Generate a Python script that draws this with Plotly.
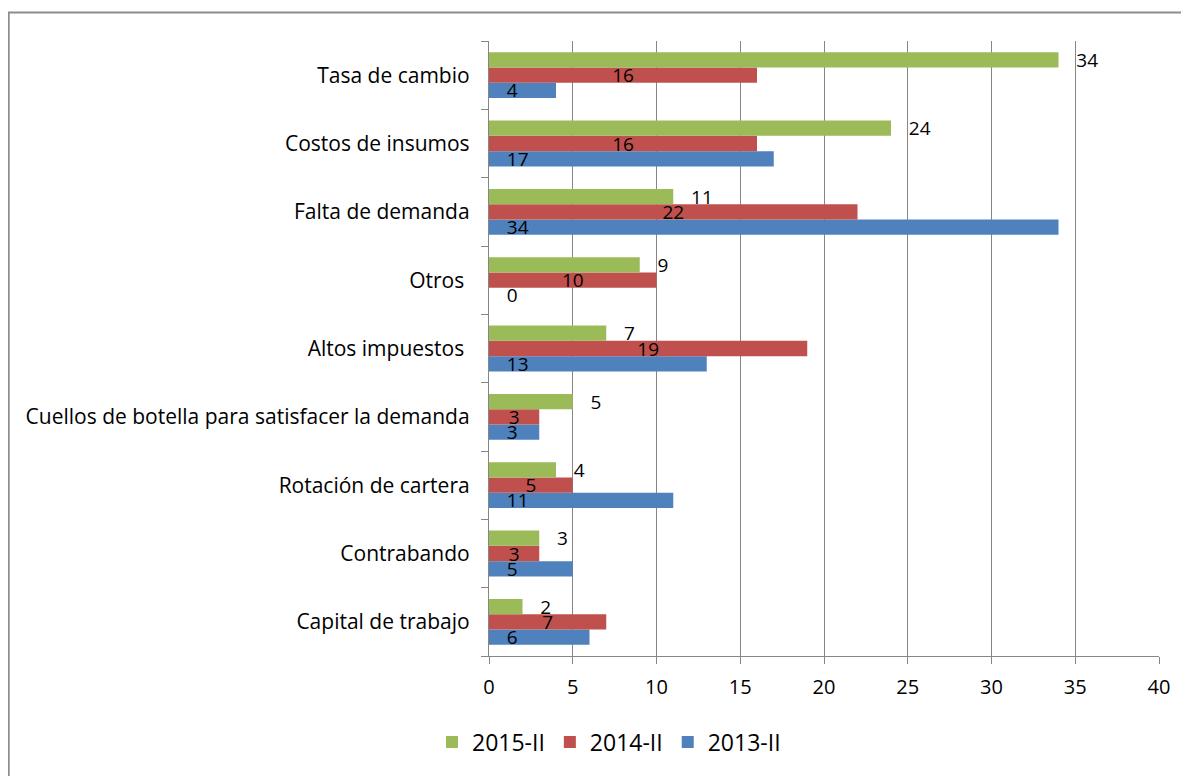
import plotly.graph_objects as go

categories = [
    "Capital de trabajo",
    "Contrabando",
    "Rotación de cartera",
    "Cuellos de botella para satisfacer la demanda",
    "Altos impuestos\u00a0",
    "Otros\u00a0",
    "Falta de demanda",
    "Costos de insumos",
    "Tasa de cambio",
]
s2015 = [2, 3, 4, 5, 7, 9, 11, 24, 34]
s2014 = [7, 3, 5, 3, 19, 10, 22, 16, 16]
s2013 = [6, 5, 11, 3, 13, 0, 34, 17, 4]

FONT = "Open Sans"
GREEN = "#9BBB59"
RED = "#C0504D"
BLUE = "#4F81BD"
GRID = "#868686"
NB = "\u00a0"

# page body has an 8px margin; figure sized/positioned to compensate
W, H = 1181, 768
L, T, R, B = 481, 33, 30, 120
PW, PH = W - L - R, H - T - B

fig = go.Figure()

fig.add_trace(go.Bar(
    name="2013-II", y=categories, x=s2013, orientation="h",
    marker=dict(color=BLUE, line=dict(width=0)),
    text=s2013, texttemplate=NB * 3 + "%{x}",
    textposition=["outside" if v == 0 else "inside" for v in s2013],
    insidetextanchor="start", constraintext="none", cliponaxis=False,
    textangle=0,
    textfont=dict(family=FONT, size=19, color="black"),
))
fig.add_trace(go.Bar(
    name="2014-II", y=categories, x=s2014, orientation="h",
    marker=dict(color=RED, line=dict(width=0)),
    text=s2014, texttemplate="%{x}",
    textposition="inside", insidetextanchor="middle",
    constraintext="none", cliponaxis=False, textangle=0,
    textfont=dict(family=FONT, size=19, color="black"),
))
fig.add_trace(go.Bar(
    name="2015-II", y=categories, x=s2015, orientation="h",
    marker=dict(color=GREEN, line=dict(width=0)),
    text=s2015, texttemplate=NB * 3 + "%{x}",
    textposition="outside", constraintext="none", cliponaxis=False,
    textangle=0,
    textfont=dict(family=FONT, size=19, color="black"),
))

fig.update_layout(
    width=W, height=H,
    margin=dict(l=L, r=R, t=T, b=B, autoexpand=False),
    paper_bgcolor="white", plot_bgcolor="white",
    barmode="group", bargap=0.33, bargroupgap=0,
    font=dict(family=FONT, size=20, color="black"),
    showlegend=True,
    legend=dict(
        orientation="h", traceorder="reversed",
        x=(601 - L) / PW, xanchor="center",
        y=(T + PH - 734) / PH, yanchor="middle",
        font=dict(family=FONT, size=23, color="black"),
        bgcolor="rgba(0,0,0,0)",
    ),
    xaxis=dict(
        range=[0, 40], dtick=5, tick0=0,
        showgrid=True, gridcolor=GRID, gridwidth=1.3,
        showline=True, linecolor=GRID, linewidth=1.3,
        ticks="outside", ticklen=7, tickcolor=GRID, tickwidth=1.3,
        zeroline=False, ticklabelstandoff=6,
        tickfont=dict(family=FONT, size=20, color="black"),
    ),
    yaxis=dict(
        type="category", categoryorder="array", categoryarray=categories,
        showgrid=False, showline=True, linecolor=GRID, linewidth=1.3,
        ticks="outside", ticklen=7, tickcolor=GRID, tickwidth=1.3,
        tickson="boundaries", ticklabelstandoff=14,
        tickfont=dict(family=FONT, size=21, color="black"),
    ),
    shapes=[dict(
        type="rect", xref="paper", yref="paper",
        x0=(0.8 - L) / PW, x1=2.0, y0=(T + PH - 4.5) / PH, y1=-1.0,
        line=dict(color="#8c8c8c", width=1.8), fillcolor="rgba(0,0,0,0)",
        layer="below",
    )],
)

fig.write_html("out.html")
